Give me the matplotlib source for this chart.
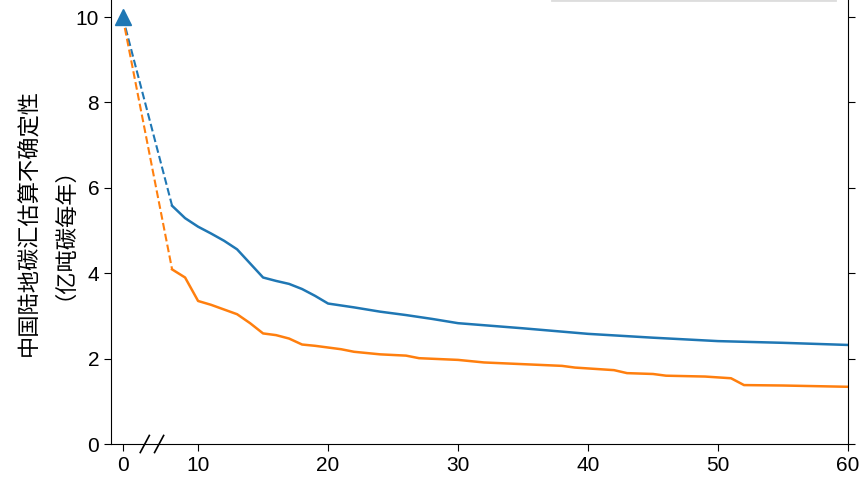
import matplotlib
matplotlib.use('Agg')
import matplotlib.pyplot as plt

plt.rcParams['font.family'] = ['Liberation Sans', 'Noto Sans CJK SC', 'DejaVu Sans']

# x position used for the "0" point (axis is broken between 0 and 8)
x0_pos = 4.2
y_start = 10.0

blue_x = [8, 9, 10, 11, 12, 13, 14, 15, 16, 17, 18, 19, 20, 22, 24, 26, 28, 30, 35, 40, 45, 50, 55, 60]
blue_y = [5.58, 5.29, 5.09, 4.93, 4.76, 4.56, 4.23, 3.90, 3.82, 3.75, 3.63, 3.47, 3.29, 3.20, 3.10, 3.02,
          2.93, 2.83, 2.71, 2.58, 2.49, 2.41, 2.37, 2.32]

orange_x = [8, 9, 10, 11, 12, 13, 14, 15, 16, 17, 18, 19, 20, 21, 22, 24, 26, 27, 30, 32, 35, 38, 39,
            42, 43, 45, 46, 49, 51, 52, 55, 60]
orange_y = [4.09, 3.90, 3.35, 3.26, 3.15, 3.04, 2.83, 2.59, 2.55, 2.47, 2.33, 2.30, 2.26, 2.22, 2.16,
            2.10, 2.07, 2.01, 1.97, 1.91, 1.87, 1.83, 1.79, 1.73, 1.66, 1.64, 1.60, 1.58, 1.54, 1.38,
            1.37, 1.34]

fig = plt.figure(figsize=(8.61, 4.84), dpi=100)
ax = fig.add_axes([111/861, 1-444/484, (848-111)/861, 444/484])

c_blue = '#1f77b4'
c_orange = '#ff7f0e'
ax.plot([x0_pos, blue_x[0]], [y_start, blue_y[0]], '--', color=c_blue, lw=1.5)
ax.plot([x0_pos, orange_x[0]], [y_start, orange_y[0]], '--', color=c_orange, lw=1.5)
ax.plot(blue_x, blue_y, color=c_blue, lw=1.8)
ax.plot(orange_x, orange_y, color=c_orange, lw=1.8)
ax.plot([x0_pos], [y_start], '^', color=c_blue, ms=11, clip_on=False, zorder=5)

ax.set_xlim(3.3, 60)
ax.set_ylim(0, 10.4)
ax.set_xticks([x0_pos, 10, 20, 30, 40, 50, 60])
ax.set_xticklabels(['0', '10', '20', '30', '40', '50', '60'])
ax.set_yticks([0, 2, 4, 6, 8, 10])
ax.tick_params(labelsize=15, right=True, direction='out', length=5)
ax.spines['top'].set_visible(False)

# axis break marks
for xb in [5.9, 7.0]:
    ax.plot([xb - 0.35, xb + 0.35], [-0.2, 0.2], color='black', lw=1.2, clip_on=False)

# faint edge of a legend box cut off at the top
ax.plot([37.2, 59.0], [10.4, 10.4], color='#dddddd', lw=2, clip_on=False)

ax.set_ylabel('中国陆地碳汇估算不确定性\n（亿吨碳每年）', fontsize=16, labelpad=8)

fig.savefig('out.png', dpi=100)
